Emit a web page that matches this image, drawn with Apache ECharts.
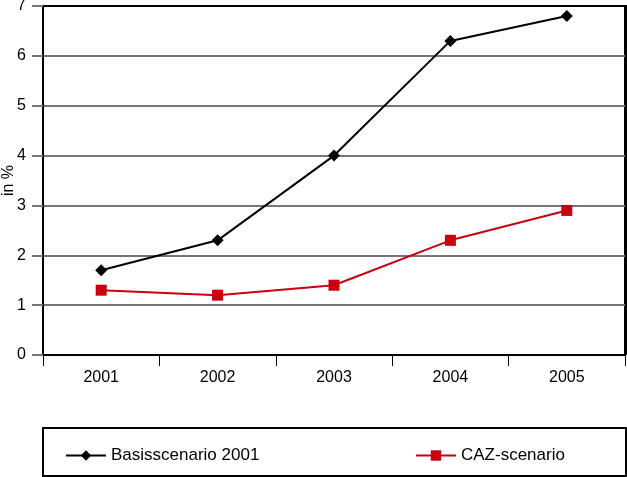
<!DOCTYPE html>
<html><head><meta charset="utf-8">
<script src="https://cdn.jsdelivr.net/npm/echarts@6/dist/echarts.min.js"></script>
<style>html,body{margin:0;padding:0;background:#fff}#c{width:627px;height:477px}</style>
</head><body><div id="c"></div>
<script>
const categories = ['2001','2002','2003','2004','2005'];
const basis = [1.7, 2.3, 4.0, 6.3, 6.8];
const caz = [1.3, 1.2, 1.4, 2.3, 2.9];
const seriesNames = ['Basisscenario 2001', 'CAZ-scenario'];
const font = 'Liberation Sans, Arial, sans-serif';
const chart = echarts.init(document.getElementById('c'));
chart.setOption({
  animation: false,
  backgroundColor: '#fff',
  grid: {left: 43, right: 2, top: 6, bottom: 122, containLabel: false, outerBoundsMode: 'none',
         show: true, borderColor: '#000', borderWidth: 2},
  xAxis: {
    type: 'category', data: categories,
    axisLine: {lineStyle: {color: '#000', width: 2}},
    axisTick: {show: true, length: 11, lineStyle: {color: '#000', width: 1}},
    axisLabel: {color: '#000', fontSize: 16, fontFamily: font, margin: 15}
  },
  yAxis: {
    type: 'value', min: 0, max: 7, interval: 1,
    name: 'in %', nameLocation: 'middle', nameRotate: 90, nameGap: 26, nameMoveOverlap: false,
    nameTextStyle: {color: '#000', fontSize: 16, fontFamily: font},
    axisLine: {show: true, lineStyle: {color: '#000', width: 2}},
    axisTick: {show: true, length: 11, lineStyle: {color: '#777', width: 2}},
    axisLabel: {color: '#000', fontSize: 16, fontFamily: font, margin: 17,
                verticalAlign: 'middle', verticalAlignMaxLabel: 'middle', verticalAlignMinLabel: 'middle'},
    splitLine: {lineStyle: {color: '#777', width: 2}}
  },
  legend: [
    {data: [seriesNames[0]], left: 60, top: 442, itemWidth: 40, itemHeight: 13, itemGap: 12,
     textStyle: {color: '#000', fontSize: 17, fontFamily: font}},
    {data: [seriesNames[1]], left: 410, top: 442, itemWidth: 40, itemHeight: 13, itemGap: 12,
     textStyle: {color: '#000', fontSize: 17, fontFamily: font}}
  ],
  graphic: [
    {type: 'rect', shape: {x: 43, y: 428, width: 583, height: 48},
     style: {fill: 'none', stroke: '#000', lineWidth: 2}},
    {type: 'polyline', z: 100, shape: {points: [[43, 6], [626, 6], [626, 355]]},
     style: {fill: 'none', stroke: '#000', lineWidth: 2}}
  ],
  series: [
    {name: seriesNames[0], type: 'line', data: basis, symbol: 'diamond', symbolSize: 12,
     lineStyle: {color: '#000', width: 2}, itemStyle: {color: '#000'}},
    {name: seriesNames[1], type: 'line', data: caz, symbol: 'rect', symbolSize: 11,
     lineStyle: {color: '#c8000f', width: 2}, itemStyle: {color: '#c8000f'}}
  ]
});
</script></body></html>
